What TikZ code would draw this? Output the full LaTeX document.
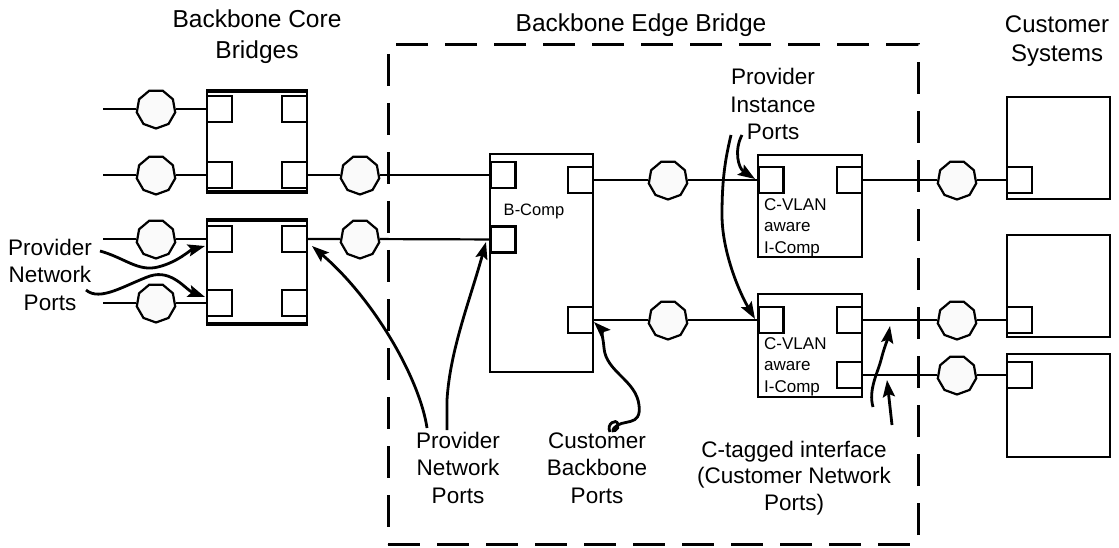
\documentclass[tikz,border=0pt]{standalone}
\usepackage{fontspec}
\setmainfont{Liberation Sans}
\usetikzlibrary{shapes.geometric,arrows.meta}

\begin{document}
\begin{tikzpicture}[x=1pt, y=-1pt,
	box/.style={draw, line width=2.2pt, inner sep=0pt},
	port/.style={draw, line width=2.2pt, fill=white, minimum width=25pt, minimum height=26pt, inner sep=0pt},
	hub/.style={draw, line width=2.2pt, fill=gray!4, regular polygon, regular polygon sides=9, shape border rotate=180, minimum size=39pt, inner sep=0pt},
	wire/.style={line width=2.2pt},
	pointer/.style={line width=2.8pt, -{Stealth[length=17pt,width=12pt,inset=3pt]}},
	big/.style={font=\fontsize{22.5}{27.5}\selectfont, align=center, anchor=base, inner sep=0pt},
	small/.style={font=\fontsize{17}{21.3}\selectfont, align=left, anchor=base west, inner sep=0pt}]
			\useasboundingbox (0,0) rectangle (1119,548);
			%Pont de bordure
			\node[box, line width=3pt, dash pattern=on 32pt off 17pt, minimum width=530pt, minimum height=499pt] (BEB) at (653,294.5) {};
			%Ponts du coeur
			\node[box, minimum width=100pt, minimum height=103pt] (CB1) at (257,141.5) {};
			\node[box, minimum width=100pt, minimum height=106pt] (CB2) at (257,272) {};
			\foreach \b in {CB1,CB2} {
				\draw[wire] ([yshift=-3pt]\b.north west) -- ([yshift=-3pt]\b.north east);
				\draw[wire] ([yshift=3pt]\b.south west) -- ([yshift=3pt]\b.south east);
			}
			\node[port] (CB1a) at (219.5,109) {};
			\node[port] (CB1b) at (294.5,109) {};
			\node[port] (CB1c) at (219.5,175) {};
			\node[port] (CB1d) at (294.5,175) {};
			\node[port] (CB2a) at (219.5,239) {};
			\node[port] (CB2b) at (294.5,239) {};
			\node[port] (CB2c) at (219.5,303) {};
			\node[port] (CB2d) at (294.5,303) {};
			%Composants
			\node[box, minimum width=103pt, minimum height=218pt] (BC) at (541.5,263) {};
			\node[port] (BCa) at (503,175) {};
			\node[port] (BCb) at (503,239.5) {};
			\node[port] (BCc) at (580.5,180) {};
			\node[port] (BCd) at (580.5,320) {};
			\node[small, font=\fontsize{16.5}{20}\selectfont, anchor=base] (BCl) at (534,215) {B-Comp};
			\node[box, minimum width=104pt, minimum height=102pt] (IC1) at (810,206) {};
			\node[box, minimum width=104pt, minimum height=103pt] (IC2) at (810,345.5) {};
			\node[port] (IC1a) at (771,180) {};
			\node[port] (IC1b) at (849.5,180) {};
			\node[port] (IC2a) at (771,320) {};
			\node[port] (IC2b) at (849.5,320) {};
			\node[port] (IC2c) at (849.5,375) {};
			\node[small] (IC1l) at (764,253) {C-VLAN\\aware\\I-Comp};
			\node[small] (IC2l) at (764,392) {C-VLAN\\aware\\I-Comp};
			%Systemes clients
			\node[box, minimum width=103pt, minimum height=102pt] (CS1) at (1058.5,148) {};
			\node[box, minimum width=103pt, minimum height=102pt] (CS2) at (1058.5,286) {};
			\node[box, minimum width=103pt, minimum height=103pt] (CS3) at (1058.5,405.5) {};
			\node[port] (CS1a) at (1019.5,180) {};
			\node[port] (CS2a) at (1019.5,320) {};
			\node[port] (CS3a) at (1019.5,375) {};
			%Liens
			\node[hub] (H1) at (156,109) {};
			\node[hub] (H2) at (156,175) {};
			\node[hub] (H3) at (156,239) {};
			\node[hub] (H4) at (156,303) {};
			\node[hub] (H5) at (360,175) {};
			\node[hub] (H6) at (360,239) {};
			\node[hub] (H7) at (668,180) {};
			\node[hub] (H8) at (668,320) {};
			\node[hub] (H9) at (957,180) {};
			\node[hub] (H10) at (957,320) {};
			\node[hub] (H11) at (957,375) {};
			\coordinate (L1) at (103,109);
			\coordinate (L2) at (103,175);
			\coordinate (L3) at (103,239);
			\coordinate (L4) at (103,303);
			\draw[wire] (L1) -- (H1) -- (CB1a);
			\draw[wire] (L2) -- (H2) -- (CB1c);
			\draw[wire] (L3) -- (H3) -- (CB2a);
			\draw[wire] (L4) -- (H4) -- (CB2c);
			\draw[wire] (CB1d) -- (H5) -- (BCa);
			\draw[wire] (CB2b) -- (H6) -- (BCb);
			\draw[wire] (BCc) -- (H7) -- (IC1a);
			\draw[wire] (BCd) -- (H8) -- (IC2a);
			\draw[wire] (IC1b) -- (H9) -- (CS1a);
			\draw[wire] (IC2b) -- (H10) -- (CS2a);
			\draw[wire] (IC2c) -- (H11) -- (CS3a);
			%Textes
			\node[big, font=\fontsize{24.5}{31}\selectfont] (TCore) at (257,59) {Backbone Core\\Bridges};
			\node[big, font=\fontsize{24.5}{31}\selectfont] (TEdge) at (641,32) {Backbone Edge Bridge};
			\node[big, font=\fontsize{24}{29}\selectfont] (TCust) at (1057,62) {Customer\\Systems};
			\node[big] (TPIP) at (773,140) {Provider\\Instance\\Ports};
			\node[big] (TPNPa) at (50,310) {Provider\\Network\\Ports};
			\node[big] (TPNPb) at (458,503) {Provider\\Network\\Ports};
			\node[big] (TCBP) at (597,503) {Customer\\Backbone\\Ports};
			\node[big, font=\fontsize{22.5}{26.5}\selectfont] (TCNP) at (794,510) {C-tagged interface\\(Customer Network\\Ports)};
			%Fleches
			\coordinate (A1) at (100,251);  \coordinate (A1t) at (205,246);
			\coordinate (A2) at (86,290);   \coordinate (A2t) at (205,297);
			\coordinate (A3) at (427,428);  \coordinate (A3t) at (312,246);
			\coordinate (A4) at (447,430);  \coordinate (A4t) at (486,242);
			\coordinate (A5) at (610,432);  \coordinate (A5t) at (594,322);
			\coordinate (A6) at (742,135);  \coordinate (A6t) at (755,179);
			\coordinate (A7) at (731,135);  \coordinate (A7t) at (755,319);
			\coordinate (A8) at (873,407);  \coordinate (A8t) at (890,326);
			\coordinate (A9) at (892,425);  \coordinate (A9t) at (887,380);
			\draw[pointer] (A1) .. controls (125,258) and (138,272) .. (158,267) .. controls (178,262) and (190,250) .. (A1t);
			\draw[pointer] (A2) .. controls (100,302) and (125,285) .. (150,276) .. controls (172,269) and (186,290) .. (A2t);
			\draw[pointer] (A3) .. controls (420,380) and (375,300) .. (A3t);
			\draw[pointer] (A4) -- (447,400) .. controls (450,350) and (470,300) .. (A4t);
			\draw[pointer] (A5) .. controls (606,424) and (616,418) .. (618,424) .. controls (620,430) and (610,434) .. (614,428) .. controls (622,418) and (642,428) .. (639,405) .. controls (636,380) and (606,372) .. (604,348) .. controls (603,336) and (600,328) .. (A5t);
			\draw[pointer] (A6) .. controls (734,150) and (738,168) .. (A6t);
			\draw[pointer] (A7) .. controls (725,160) and (722,180) .. (722,215) .. controls (722,250) and (738,290) .. (A7t);
			\draw[pointer] (A8) .. controls (868,390) and (878,372) .. (881,360) .. controls (884,348) and (888,338) .. (A8t);
			\draw[pointer] (A9) -- (A9t);
		\end{tikzpicture}
\end{document}
